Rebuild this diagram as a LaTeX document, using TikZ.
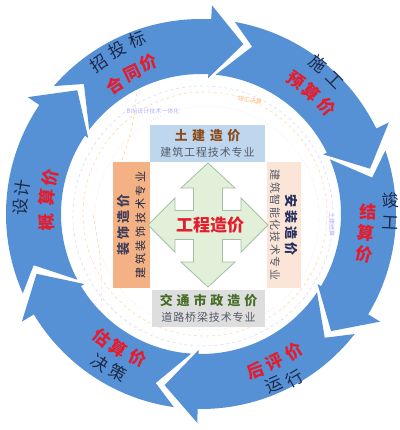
\documentclass[tikz,border=0pt]{standalone}
\usepackage{fontspec}
\setmainfont{Noto Sans CJK SC}
\newfontfamily\lsa[LetterSpace=8]{Noto Sans CJK SC}
\newfontfamily\lsb[LetterSpace=13]{Noto Sans CJK SC}
\newfontfamily\lsc[LetterSpace=25]{Noto Sans CJK SC}
\newfontfamily\lsd[LetterSpace=22]{Noto Sans CJK SC}
\newfontfamily\lse[LetterSpace=30]{Noto Sans CJK SC}
\newfontfamily\lsf[LetterSpace=35]{Noto Sans CJK SC}
\usetikzlibrary{arrows.meta}
\definecolor{ringblue}{RGB}{86,145,213}
\definecolor{navyt}{RGB}{28,40,72}
\definecolor{redt}{RGB}{228,28,45}
\definecolor{topfill}{RGB}{190,215,238}
\definecolor{leftfill}{RGB}{244,177,131}
\definecolor{rightfill}{RGB}{251,229,214}
\definecolor{botfill}{RGB}{222,222,222}
\definecolor{arrowfill}{RGB}{226,240,217}
\definecolor{arrowline}{RGB}{165,190,165}
\definecolor{browntitle}{RGB}{140,75,25}
\definecolor{greentitle}{RGB}{70,110,40}
\definecolor{navytitle}{RGB}{35,45,95}
\definecolor{subgrey}{RGB}{85,90,105}
\newcommand{\ringseg}[2]{%
  \fill[ringblue] ({#1+3}:140pt) arc[start angle={#1+3}, end angle={#2+6}, radius=140pt]
    -- ({#2+6}:136pt) -- ({#2-5}:175pt) -- ({#2+6}:209pt) -- ({#2+6}:195pt)
    arc[start angle={#2+6}, end angle={#1-1}, radius=195pt]
    -- ({#1-8}:175pt) -- cycle;}
\begin{document}
\begin{tikzpicture}[x=1pt,y=1pt,
  ot/.style={text=navyt,font=\fontsize{17}{17}\selectfont,inner sep=0pt},
  rt/.style={text=redt,font=\fontsize{17}{17}\selectfont\bfseries,inner sep=0pt},
  cbox/.style={draw=none,inner sep=0pt,align=center,font=\fontsize{13}{16}\selectfont},
  faint/.style={font=\fontsize{6}{6}\selectfont,inner sep=0pt}]
\useasboundingbox (-201,-216) rectangle (198,214);
\fill[white] (-201,-216) rectangle (198,214);

% faint background circles and arrows
\draw[orange!30, dashed, line width=0.6pt] (4,0) circle (122pt);
\draw[blue!15, dashed, line width=0.6pt] (2,-2) circle (130pt);
\draw[gray!20, dotted, line width=0.6pt] (6,-4) circle (112pt);
\coordinate (o1) at (-79,54);
\coordinate (o2) at (-64,129);
\coordinate (o3) at (-108,-1);
\coordinate (o4) at (-101,-108);
\draw[orange!45, dashed, -{Stealth[length=5pt]}] (o1) to[bend right=8] (o2);
\draw[orange!45, dashed, -{Stealth[length=5pt]}] (o3) to[bend left=8] (o4);
\node[faint, text=blue!30] (bim) at (-48,103) {BIM设计技术一体化};
\node[faint, text=orange!55, rotate=-8] (jgjs) at (49,114) {竣工决算};
\node[faint, text=blue!30, rotate=-90] (tjjs) at (131,-11) {土建结算};

% ring segments (clockwise)
\ringseg{205}{140}
\ringseg{140}{81}
\ringseg{81}{20}
\ringseg{20}{-37}
\ringseg{-37}{-97}
\ringseg{-97}{-155}

% ring labels
\node[ot, rotate=34] (z1) at (124:182pt) {招};
\node[ot, rotate=27] (z2) at (117:184pt) {投};
\node[ot, rotate=20] (z3) at (110:186pt) {标};
\node[rt, rotate=34] (h1) at (123.7:155pt) {合};
\node[rt, rotate=26] (h2) at (116:157pt) {同};
\node[rt, rotate=19] (h3) at (109:160pt) {价};

\node[ot, rotate=-38] (s1) at (52:191pt) {施};
\node[ot, rotate=-45] (s2) at (45:189pt) {工};
\node[rt, rotate=-35] (y1) at (54.7:164pt) {预};
\node[rt, rotate=-42] (y2) at (47.9:164pt) {算};
\node[rt, rotate=-50] (y3) at (40.3:165pt) {价};

\node[ot, rotate=4] (j1) at (4.2:190pt) {竣};
\node[ot, rotate=-3] (j2) at (-2.7:190pt) {工};
\node[rt, rotate=0] (g1) at (0.7:167pt) {结};
\node[rt, rotate=-7] (g2) at (-6.6:166pt) {算};
\node[rt, rotate=-14] (g3) at (-14:168pt) {价};

\node[rt, rotate=19] (p1) at (-70.8:166pt) {后};
\node[rt, rotate=26] (p2) at (-63.7:165pt) {评};
\node[rt, rotate=34] (p3) at (-56:166pt) {价};
\node[ot, rotate=23] (r1) at (-66.9:186pt) {运};
\node[ot, rotate=30] (r2) at (-60.4:189pt) {行};

\node[rt, rotate=-39] (e1) at (231.4:159pt) {估};
\node[rt, rotate=-32] (e2) at (238.2:158pt) {算};
\node[rt, rotate=-24] (e3) at (246.4:157pt) {价};
\node[ot, rotate=-34] (d1) at (235.9:180pt) {决};
\node[ot, rotate=-28] (d2) at (242.4:179pt) {策};

\node[ot, rotate=88] (x1) at (177.8:181pt) {设};
\node[ot, rotate=82] (x2) at (171.7:181pt) {计};
\node[rt, rotate=93] (k1) at (183:155pt) {概};
\node[rt, rotate=84] (k2) at (174:155pt) {算};
\node[rt, rotate=77] (k3) at (166.6:155pt) {价};

% four boxes
\node[cbox, fill=topfill, minimum width=115pt, minimum height=37pt] (tujian) at (6.5,70.5)
  {{\lsf\bfseries\color{browntitle}土建造价}\\{\lsa\fontsize{11}{13}\selectfont\color{subgrey}建筑工程技术专业}};
\node[cbox, fill=leftfill, rotate=90, minimum width=126pt, minimum height=37pt] (zhuangshi) at (-69.5,-11)
  {{\lsd\bfseries\color{navytitle!80!brown}装饰造价}\\{\lsc\fontsize{11}{13}\selectfont\color{navyt}建筑装饰技术专业}};
\node[cbox, fill=rightfill, rotate=-90, minimum width=126pt, minimum height=34pt] (anzhuang) at (83,-11)
  {{\lsd\bfseries\color{navytitle}安装造价}\\{\lsb\fontsize{11}{13}\selectfont\color{subgrey}建筑智能化技术专业}};
\node[cbox, fill=botfill, minimum width=113pt, minimum height=37pt] (shizheng) at (7.5,-94.5)
  {{\lse\bfseries\color{greentitle}交通市政造价}\\{\lsa\fontsize{11}{13}\selectfont\color{subgrey}道路桥梁技术专业}};

% four-way arrow
\begin{scope}[shift={(7,-11)}]
\filldraw[fill=arrowfill, draw=arrowline, line width=0.8pt]
  (0,62) -- (27,37) -- (14.5,37) -- (14.5,14.5) -- (33,14.5) -- (33,27) -- (60,0)
  -- (33,-27) -- (33,-14.5) -- (14.5,-14.5) -- (14.5,-37) -- (27,-37) -- (0,-62)
  -- (-27,-37) -- (-14.5,-37) -- (-14.5,-14.5) -- (-33,-14.5) -- (-33,-27) -- (-60,0)
  -- (-33,27) -- (-33,14.5) -- (-14.5,14.5) -- (-14.5,37) -- (-27,37) -- cycle;
\end{scope}
\node[text=redt, font=\fontsize{17}{17}\selectfont\bfseries, inner sep=0pt] (center) at (9,-11) {工程造价};
\end{tikzpicture}
\end{document}
